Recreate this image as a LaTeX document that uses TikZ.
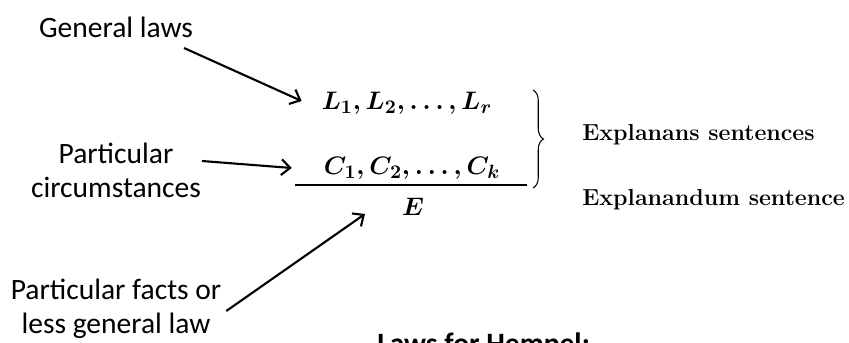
\documentclass[tikz,border=0pt]{standalone}
\usepackage[no-math]{fontspec}
\usepackage{amsmath}
\usepackage{tikz}
\usetikzlibrary{arrows.meta, calc, decorations.pathreplacing}
\newfontfamily\calibri{Carlito}

\begin{document}
\begin{tikzpicture}[x=0.02cm, y=-0.02cm]
    \tikzset{
        side label/.style={
                font=\calibri\fontsize{16.8}{19.5}\selectfont, align=center, inner sep=1pt
            },
        formula/.style={
                font=\fontsize{15}{18}\selectfont\boldmath, inner sep=1pt
            },
        role label/.style={
                font=\fontsize{13.2}{15}\selectfont\bfseries, anchor=west, inner sep=0pt
            },
        pointer/.style={
                -{Straight Barb[length=5pt, width=9pt]}, line width=1.2pt
            }
    }
    \clip (0,0) rectangle (849,342);
    \useasboundingbox (0,0) rectangle (849,342);

    % labels on the left
    \node[side label] (general) at (116,27) {General laws};
    \node[side label] (circum) at (116,170) {Particular\\circumstances};
    \node[side label] (facts) at (116,309) {Particular facts or\\less general law};

    % the schema
    \node[formula] (lrow) at (407,103) {$L_1, L_2, \ldots, L_r$};
    \node[formula] (crow) at (412,168) {$C_1, C_2, \ldots, C_k$};
    \draw[line width=1.1pt] (295,185) -- (527,185);
    \node[formula] (expl) at (413,207) {$E$};
    \draw[line width=0.6pt, decorate, decoration={brace, amplitude=6pt}] (533,90) -- (533,188);

    \node[role label] (ans) at (582,135) {Explanans sentences};
    \node[role label] (andum) at (582,200) {Explanandum sentence};

    % arrows
    \draw[pointer] ($(general.east)+(-11,21)$) -- ($(lrow.west)+(-18,-2)$);
    \draw[pointer] ($(circum.east)+(-1,-9)$) -- ($(crow.west)+(-30,0)$);
    \draw[pointer] ($(facts.east)+(3,2)$) -- ($(expl.west)+(-35,7)$);

    \node[font=\calibri\fontsize{16.8}{19.5}\selectfont\bfseries, anchor=base west, inner sep=0pt] (hempel) at (377,353) {Laws for Hempel:};
\end{tikzpicture}
\end{document}
